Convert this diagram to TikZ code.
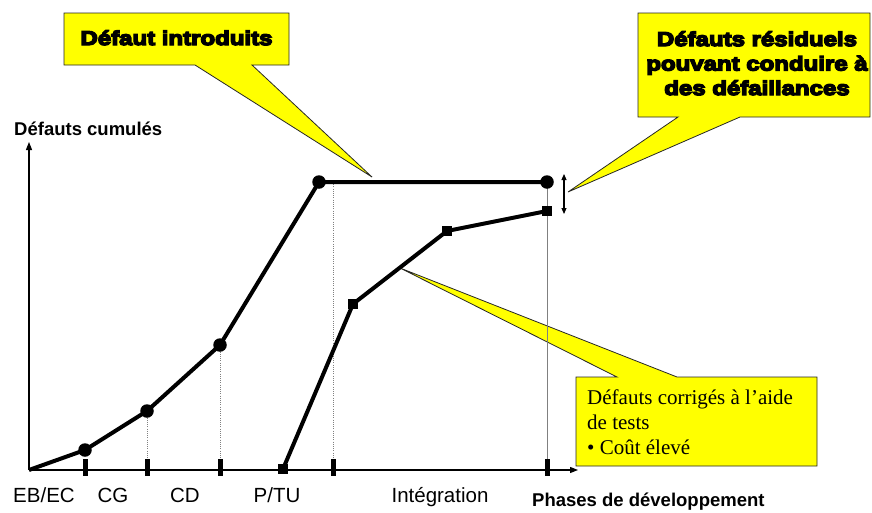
\documentclass[tikz,border=0pt]{standalone}
\usepackage{fontspec}
\setmainfont{Liberation Sans}
\newfontfamily\heavyfont{Liberation Sans Bold}[FakeBold=7,FakeStretch=1.2]
\newfontfamily\boldsans{Liberation Sans Bold}
\newfontfamily\romanfont{Liberation Serif}
\usetikzlibrary{arrows.meta}

\definecolor{calloutyellow}{RGB}{255,255,0}

\begin{document}
\begin{tikzpicture}[x=1pt,y=-1pt,
  curve/.style={line width=4pt, line join=round},
  dot/.style={circle, fill=black, inner sep=0pt, minimum size=13.5pt},
  sq/.style={rectangle, fill=black, inner sep=0pt, minimum size=10.5pt},
  tickmark/.style={line width=5pt},
  guide/.style={gray, line width=0.6pt, dash pattern=on 0.8pt off 1.4pt},
  axisline/.style={line width=1.1pt, -{Triangle[length=8pt,width=6pt]}},
  callout/.style={fill=calloutyellow, draw=black!85, line width=0.8pt, line join=miter},
  phase/.style={font=\fontsize{20.5}{24}\selectfont, anchor=base, inner sep=0pt},
  heavy/.style={font=\heavyfont\fontsize{20}{24}\selectfont, anchor=base, inner sep=0pt},
  note/.style={font=\romanfont\fontsize{21}{25}\selectfont, anchor=base west, inner sep=0pt},
  axistitle/.style={font=\boldsans\fontsize{18.5}{22}\selectfont, anchor=base west, inner sep=0pt}]

\useasboundingbox (0,0) rectangle (872,512);

% --- key points of the two curves
\coordinate (O)  at (29,470);
\coordinate (c1) at (85,450);
\coordinate (c2) at (147,411);
\coordinate (c3) at (220,345);
\coordinate (c4) at (319,182);
\coordinate (c5) at (547,182);
\coordinate (s1) at (283,469);
\coordinate (s2) at (353,304);
\coordinate (s3) at (447,231);
\coordinate (s4) at (547,211);
\coordinate (ytip) at (29,142);
\coordinate (xtip) at (578,470);

% --- callouts
\draw[callout] (64,13) -- (289,13) -- (289,65) -- (252,65) -- (372,177)
  -- (195,65) -- (64,65) -- cycle;
\draw[callout] (638,13) -- (870,13) -- (870,117) -- (740,117) -- (568,192)
  -- (678,117) -- (638,117) -- cycle;
\draw[callout] (576,377) -- (617,377) -- (400,268) -- (677,377) -- (817,377)
  -- (817,466) -- (576,466) -- cycle;

\node[heavy] (intro) at (176.5,45) {Défaut introduits};
\node[heavy] (res1) at (757,46) {Défauts résiduels};
\node[heavy] (res2) at (757,70.5) {pouvant conduire à};
\node[heavy] (res3) at (757,95) {des défaillances};
\node[note] (cor1) at (587,404) {Défauts corrigés à l’aide};
\node[note] (cor2) at (587,429) {de tests};
\node[note] (cor3) at (587,454) {• Coût élevé};

% --- guide lines down to the axis
\draw[guide] (c2) -- (147,460);
\draw[guide] (c3) -- (220,460);
\draw[guide] (333,182) -- (333,460);
\draw[gray, line width=0.9pt] (c5) -- (547,460);

% --- axes
\draw[axisline] (O) -- (ytip);
\draw[axisline] (O) -- (xtip);
\foreach \x in {85,147,220,333,547}
  \draw[tickmark] (\x,459) -- (\x,476);

% --- residual gap marker
\coordinate (gtop) at (564,174);
\coordinate (gbot) at (564,214);
\draw[line width=1.1pt, {Triangle[length=6pt,width=5pt]}-{Triangle[length=6pt,width=5pt]}] (gtop) -- (gbot);

% --- curves
\draw[curve] (O) -- (c1) -- (c2) -- (c3) -- (c4) -- (c5);
\draw[curve] (s1) -- (s2) -- (s3) -- (s4);
\foreach \p in {c1,c2,c3,c4,c5} \node[dot] at (\p) {};
\foreach \p in {s1,s2,s3,s4} \node[sq] at (\p) {};

% --- axis labels
\node[axistitle] (ylab) at (14,135) {Défauts cumulés};
\node[axistitle] (xlab) at (532,506) {Phases de développement};
\node[phase] (p1) at (44,502) {EB/EC};
\node[phase] (p2) at (113,502) {CG};
\node[phase] (p3) at (185,502) {CD};
\node[phase] (p4) at (277,502) {P/TU};
\node[phase] (p5) at (440,502) {Intégration};

\end{tikzpicture}
\end{document}
